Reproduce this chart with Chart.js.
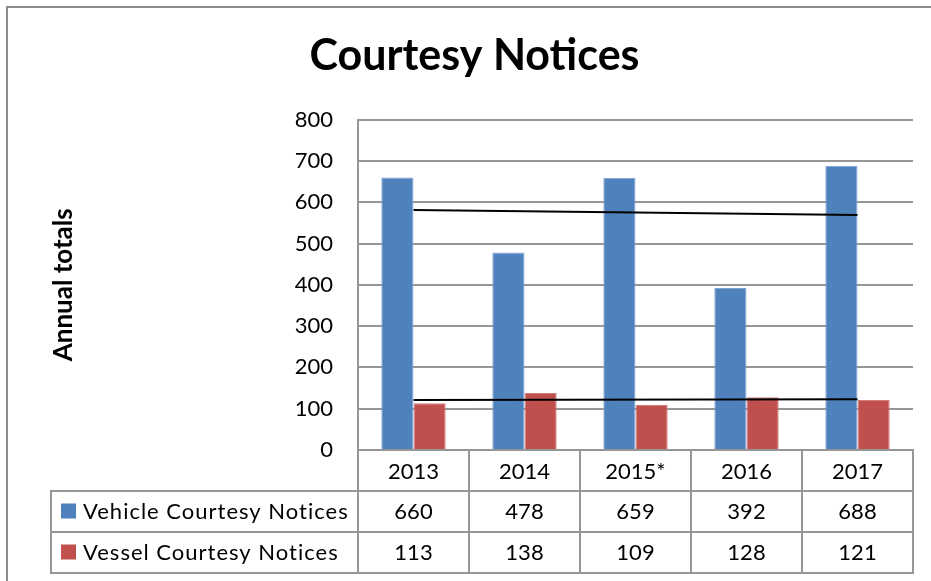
<!DOCTYPE html>
<html>
<head>
<meta charset="utf-8">
<title>Courtesy Notices</title>
<script src="https://cdn.jsdelivr.net/npm/chart.js@4.4.0/dist/chart.umd.min.js"></script>
<style>
  body { margin: 0; background: #fff; }
  #wrap { width: 931px; height: 581px; }
</style>
</head>
<body>
<div id="wrap"><canvas id="chart" width="931" height="581"></canvas></div>
<script>
// data
var years = ['2013', '2014', '2015*', '2016', '2017'];
var vehicleNotices = [660, 478, 659, 392, 688];
var vesselNotices = [113, 138, 109, 128, 121];
// linear trendline ends (first and last year)
var vehicleTrend = [581, null, null, null, 569];
var vesselTrend = [121, null, null, null, 123];
var seriesNames = ['Vehicle Courtesy Notices', 'Vessel Courtesy Notices'];
var yMin = 0, yMax = 800, yStep = 100;

var blue = '#4F81BD';
var red = '#C0504D';
var gridGray = '#969696';
var fontFamily = 'Lato, "Open Sans", sans-serif';

Chart.defaults.font.family = fontFamily;
Chart.defaults.color = '#000';

// frame around the chart + the data table under the category axis
var dataTable = {
    id: 'dataTable',
    beforeDraw: function(chart) {
        var ctx = chart.ctx;
        ctx.save();
        ctx.fillStyle = '#fff';
        ctx.fillRect(0, 0, chart.width, chart.height);
        ctx.strokeStyle = '#8c8c8c';
        ctx.lineWidth = 2;
        ctx.strokeRect(7, 7, chart.width + 20, chart.height + 20);
        ctx.restore();
    },
    afterDraw: function(chart) {
        var ctx = chart.ctx;
        var x = chart.scales.x;
        var area = chart.chartArea;
        var colW = x.width / years.length;
        var top = x.bottom + 1;
        var rowH = 41;
        var tableLeft = 51;
        var rows = [vehicleNotices, vesselNotices];
        var colors = [blue, red];

        ctx.save();
        ctx.strokeStyle = gridGray;
        ctx.lineWidth = 2;
        ctx.beginPath();
        for (let r = 0; r <= rows.length; r++) {
            ctx.moveTo(tableLeft, top + r * rowH);
            ctx.lineTo(area.right + 1, top + r * rowH);
        }
        var xs = [tableLeft, area.left];
        for (let i = 0; i < years.length; i++) {
            xs.push(x.getPixelForValue(i) + colW / 2);
        }
        for (let k = 0; k < xs.length; k++) {
            ctx.moveTo(xs[k], top - 1);
            ctx.lineTo(xs[k], top + rows.length * rowH + 1);
        }
        ctx.stroke();

        ctx.textBaseline = 'middle';
        for (let r = 0; r < rows.length; r++) {
            var mid = top + r * rowH + rowH / 2;
            ctx.fillStyle = colors[r];
            ctx.fillRect(61, mid - 8, 15, 15);
            ctx.fillStyle = '#000';
            ctx.font = '22px ' + fontFamily;
            ctx.letterSpacing = '1px';
            ctx.textAlign = 'left';
            ctx.fillText(seriesNames[r], 83, mid);
            ctx.letterSpacing = '0px';
            ctx.textAlign = 'center';
            for (let i = 0; i < years.length; i++) {
                ctx.fillText(String(rows[r][i]), x.getPixelForValue(i), mid);
            }
        }
        ctx.restore();
    }
};

var ctx = document.getElementById('chart').getContext('2d');
var chart = new Chart(ctx, {
    type: 'bar',
    data: {
        labels: years,
        datasets: [{
            label: seriesNames[0],
            data: vehicleNotices,
            backgroundColor: blue,
            borderColor: '#7FA3D3',
            borderWidth: 1,
            categoryPercentage: 0.58,
            barPercentage: 1,
            order: 2
        }, {
            label: seriesNames[1],
            data: vesselNotices,
            backgroundColor: red,
            borderColor: '#D27E7C',
            borderWidth: 1,
            categoryPercentage: 0.58,
            barPercentage: 1,
            order: 2
        }, {
            type: 'line',
            label: 'Vehicle trend',
            data: vehicleTrend,
            borderColor: '#000',
            borderWidth: 2,
            pointRadius: 0,
            spanGaps: true,
            order: 1
        }, {
            type: 'line',
            label: 'Vessel trend',
            data: vesselTrend,
            borderColor: '#000',
            borderWidth: 2,
            pointRadius: 0,
            spanGaps: true,
            order: 1
        }]
    },
    options: {
        responsive: false,
        animation: false,
        devicePixelRatio: 1,
        layout: {
            padding: { top: 30, left: 36, right: 18, bottom: 91 }
        },
        plugins: {
            legend: { display: false },
            tooltip: { enabled: false },
            title: {
                display: true,
                text: 'Courtesy Notices',
                font: { size: 43, weight: 'bold' },
                color: '#000',
                padding: { top: 0, bottom: 38 }
            }
        },
        scales: {
            x: {
                offset: true,
                grid: {
                    offset: true,
                    drawOnChartArea: false,
                    drawTicks: true,
                    tickLength: 40,
                    color: gridGray,
                    lineWidth: 2
                },
                border: { color: gridGray, width: 2 },
                ticks: { font: { size: 22 }, padding: -31, color: '#000' },
                afterFit: function(axis) { axis.height = 40; }
            },
            y: {
                min: yMin,
                max: yMax,
                ticks: { stepSize: yStep, font: { size: 22 }, padding: 25, color: '#000' },
                grid: { color: gridGray, lineWidth: 2, drawTicks: false },
                border: { color: gridGray, width: 2 },
                title: {
                    display: true,
                    text: 'Annual totals',
                    font: { size: 26, weight: 'bold' },
                    color: '#000',
                    padding: { top: 12, bottom: 0 }
                },
                afterFit: function(axis) { axis.width = 322; }
            }
        }
    },
    plugins: [dataTable]
});
</script>
</body>
</html>
